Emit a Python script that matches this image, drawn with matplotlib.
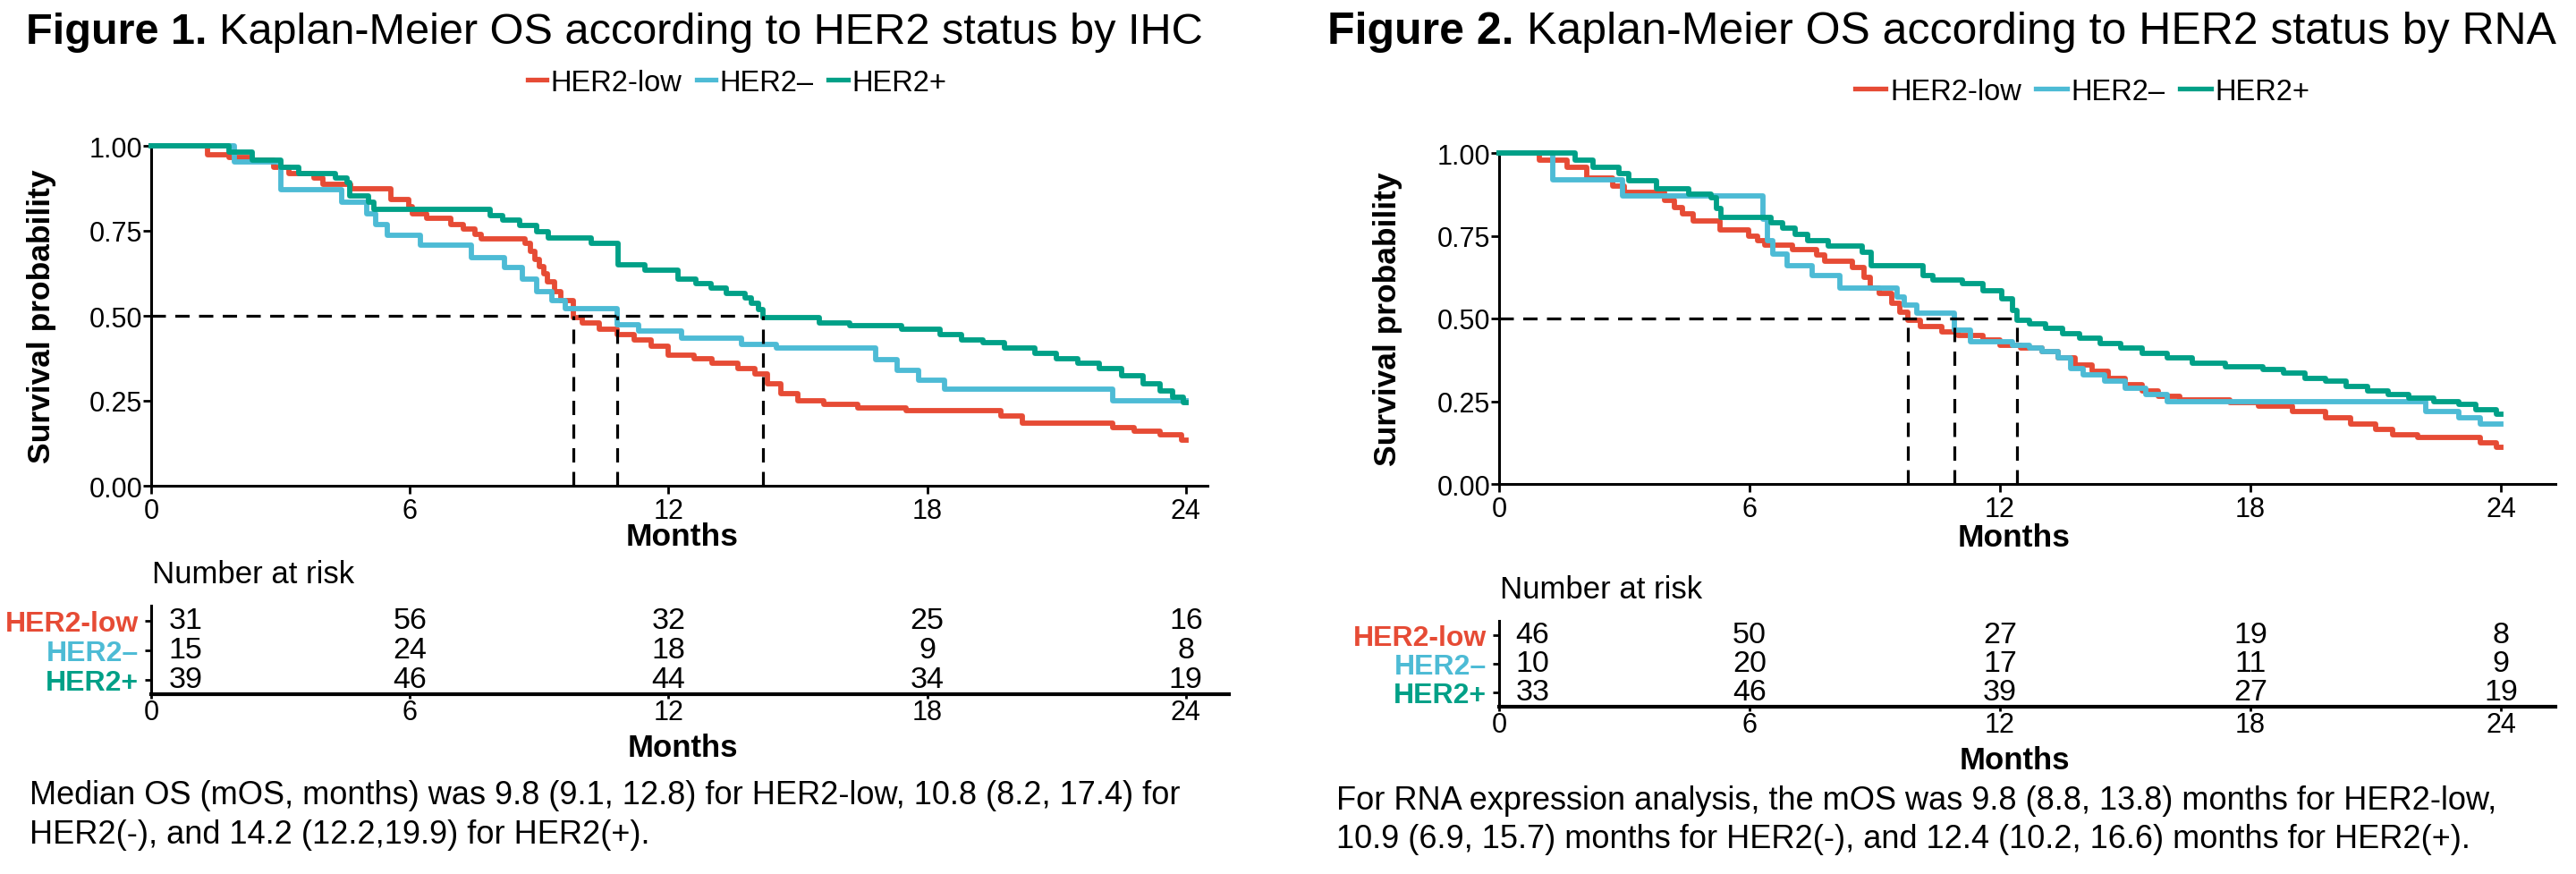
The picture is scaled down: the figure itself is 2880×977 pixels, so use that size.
import matplotlib
matplotlib.use("Agg")
import matplotlib.pyplot as plt
from matplotlib.lines import Line2D

plt.rcParams['font.family'] = ['Liberation Sans', 'DejaVu Sans']

# ---------------- data ----------------
groups = ['HER2-low', 'HER2\u2013', 'HER2+']
colors = ['#E64B35', '#4DBBD5', '#00A087']

# Figure 1 (IHC)
ihc_low_t = [0, 1.30, 1.80, 2.34, 2.84, 3.19, 3.77, 3.99, 4.62, 5.57, 5.98, 6.05, 6.40, 6.95, 7.25, 7.50,
             7.65, 8.67, 8.80, 8.90, 9.00, 9.10, 9.20, 9.35, 9.50, 9.80, 10.0, 10.4, 10.8, 11.2, 11.6,
             12.0, 12.6, 13.0, 13.6, 14.0, 14.3, 14.6, 15.0, 15.6, 16.4, 17.5, 19.7, 20.2, 22.3, 22.8,
             23.4, 23.9]
ihc_low_s = [1.0, .975, .967, .958, .936, .918, .905, .888, .875, .843, .822, .800, .786, .769, .756, .739,
             .726, .712, .690, .665, .645, .625, .600, .572, .545, .495, .480, .460, .445, .430, .410,
             .385, .375, .360, .345, .330, .300, .270, .250, .240, .230, .220, .205, .185, .170, .160,
             .150, .135]
ihc_neg_t = [0, 1.93, 3.00, 4.41, 5.00, 5.20, 5.48, 6.24, 7.42, 8.20, 8.60, 8.95, 9.30, 9.60, 10.8, 11.3,
             12.3, 13.7, 14.5, 16.8, 17.3, 17.8, 18.4, 22.3]
ihc_neg_s = [1.0, .953, .870, .835, .800, .769, .738, .707, .672, .642, .607, .572, .545, .520, .475, .455,
             .435, .415, .405, .370, .340, .310, .285, .250]
ihc_pos_t = [0, 1.80, 2.34, 3.01, 3.42, 4.27, 4.54, 4.60, 5.04, 5.17, 7.86, 8.15, 8.55, 8.95, 9.22, 10.2,
             10.84, 11.45, 12.22, 12.63, 12.98, 13.33, 13.78, 13.93, 14.08, 14.2, 15.5, 16.2, 17.4, 18.3,
             18.8, 19.3, 19.8, 20.5, 21.0, 21.5, 22.0, 22.5, 23.0, 23.4, 23.7, 23.95]
ihc_pos_s = [1.0, .982, .958, .936, .918, .905, .892, .853, .835, .812, .795, .782, .765, .747, .730, .712,
             .651, .635, .607, .594, .581, .565, .553, .537, .519, .495, .480, .470, .460, .445,
             .430, .420, .405, .390, .375, .360, .345, .325, .300, .280, .260, .245]
ihc_medians = [9.8, 10.8, 14.2]
risk_times = [0, 6, 12, 18, 24]
ihc_risk_low = [31, 56, 32, 25, 16]
ihc_risk_neg = [15, 24, 18, 9, 8]
ihc_risk_pos = [39, 46, 44, 34, 19]

# Figure 2 (RNA)
rna_low_t = [0, 0.96, 1.62, 2.11, 2.72, 3.01, 3.97, 4.20, 4.40, 4.64, 5.30, 5.98, 6.20, 6.36, 7.03, 7.60,
             7.80, 8.46, 8.75, 8.90, 9.10, 9.40, 9.60, 9.80, 10.1, 10.6, 11.0, 11.6, 12.0, 12.5, 13.0,
             13.4, 13.8, 14.2, 14.6, 15.0, 15.4, 15.8, 16.3, 17.5, 18.2, 19.0, 19.8, 20.4, 21.0, 21.4,
             22.0, 23.5, 23.9]
rna_low_s = [1.0, .978, .956, .923, .900, .882, .857, .834, .817, .794, .768, .750, .736, .722, .709, .691,
             .673, .655, .624, .593, .575, .545, .520, .495, .475, .460, .450, .435, .420, .410, .400,
             .380, .360, .340, .320, .300, .280, .265, .255, .245, .235, .220, .200, .180, .165, .150,
             .140, .125, .110]
rna_neg_t = [0, 1.29, 2.96, 6.33, 6.42, 6.56, 6.90, 7.50, 8.17, 9.54, 9.70, 10.0, 10.9, 11.3, 12.3, 12.7,
             13.0, 13.4, 13.7, 14.0, 14.5, 15.0, 15.5, 16.0, 22.2, 23.0, 23.5]
rna_neg_s = [1.0, .920, .871, .800, .736, .695, .660, .629, .592, .566, .540, .515, .465, .430, .420, .410,
             .400, .380, .350, .330, .310, .290, .270, .250, .220, .200, .180]
rna_pos_t = [0, 1.82, 2.25, 2.87, 3.11, 3.78, 4.54, 5.07, 5.20, 5.31, 6.52, 6.80, 7.10, 7.40, 7.89, 8.69,
             8.92, 10.15, 10.4, 11.1, 11.6, 12.05, 12.3, 12.4, 12.7, 13.1, 13.5, 13.9, 14.4, 14.9, 15.4,
             16.0, 16.6, 17.4, 18.3, 18.8, 19.3, 19.8, 20.3, 20.8, 21.3, 21.8, 22.4, 23.0, 23.4, 23.9]
rna_pos_s = [1.0, .978, .956, .938, .916, .893, .875, .866, .833, .805, .790, .772, .754, .736, .718, .700,
             .660, .629, .615, .606, .583, .560, .525, .495, .485, .470, .455, .440, .425, .410, .395,
             .380, .365, .355, .345, .335, .320, .310, .295, .280, .270, .260, .250, .240, .225, .210]
rna_medians = [9.8, 10.9, 12.4]
rna_risk_low = [46, 50, 27, 19, 8]
rna_risk_neg = [10, 20, 17, 11, 9]
rna_risk_pos = [33, 46, 39, 27, 19]

x_ticks = [0, 6, 12, 18, 24]
y_ticks = [0, 0.25, 0.5, 0.75, 1.0]
y_ticklabels = ['0.00', '0.25', '0.50', '0.75', '1.00']
follow_up_end = 24

fig_title1 = ('Figure 1.', 'Kaplan-Meier OS according to HER2 status by IHC')
fig_title2 = ('Figure 2.', 'Kaplan-Meier OS according to HER2 status by RNA')
note1 = ['Median OS (mOS, months) was 9.8 (9.1, 12.8) for HER2-low, 10.8 (8.2, 17.4) for',
         'HER2(-), and 14.2 (12.2,19.9) for HER2(+).']
note2 = ['For RNA expression analysis, the mOS was 9.8 (8.8, 13.8) months for HER2-low,',
         '10.9 (6.9, 15.7) months for HER2(-), and 12.4 (10.2, 16.6) months for HER2(+).']

# ---------------- figure ----------------
W, H = 2880, 978
fig = plt.figure(figsize=(W / 100, H / 100), dpi=100)
renderer = fig.canvas.get_renderer()


def rect(x0, y0, x1, y1):
    return [x0 / W, 1 - y1 / H, (x1 - x0) / W, (y1 - y0) / H]


def fx(x):
    return x / W


def fy(y):
    return 1 - y / H


def draw_title(x, ybase, parts, size):
    t1 = fig.text(fx(x), fy(ybase), parts[0], fontsize=size, fontweight='bold',
                  va='baseline', ha='left')
    bb = t1.get_window_extent(renderer=renderer)
    space = size * 100 / 72 * 0.278
    fig.text(fx(bb.x1 + space), fy(ybase), parts[1], fontsize=size, va='baseline', ha='left')


def draw_panel(cfg, curves, medians, risks, title, note):
    draw_title(cfg['title_x'], cfg['title_base'], title, cfg['title_size'])

    ax = fig.add_axes(rect(*cfg['main']))
    for (t, s), c, lab in zip(curves, colors, groups):
        ax.step(list(t) + [follow_up_end], list(s) + [s[-1]], where='post', color=c, lw=4.2,
                clip_on=False, label=lab, zorder=3)
    dash = (0, (5, 3.3))
    ax.plot([0, max(medians)], [0.5, 0.5], color='black', lw=2.3, ls=dash, zorder=4)
    for m in medians:
        ax.plot([m, m], [0, 0.5], color='black', lw=2.3, ls=dash, zorder=4)
    ax.set_xlim(0, cfg['xmax_main'])
    ax.set_ylim(0, 1)
    ax.set_xticks(x_ticks)
    ax.set_yticks(y_ticks)
    ax.set_yticklabels(y_ticklabels)
    for sp in ['top', 'right']:
        ax.spines[sp].set_visible(False)
    for sp in ['left', 'bottom']:
        ax.spines[sp].set_linewidth(2.2)
    ax.tick_params(length=6.5, width=2, labelsize=22, color='black')
    ax.tick_params(axis='y', pad=0.5)
    ax.tick_params(axis='x', pad=2.5)
    ax.patch.set_alpha(0)

    fig.text(fx(cfg['ylab'][0]), fy(cfg['ylab'][1]), 'Survival probability', rotation=90,
             fontsize=25.5, fontweight='bold', ha='center', va='center')
    fig.text(fx(cfg['xlab_x']), fy(cfg['xlab_main_y']), 'Months', fontsize=25.5,
             fontweight='bold', ha='center', va='center')

    handles = [Line2D([], [], color=c, lw=3.8) for c in colors]
    fig.legend(handles, groups, loc='center', bbox_to_anchor=(fx(cfg['leg'][0]), fy(cfg['leg'][1])),
               ncol=3, frameon=False, fontsize=23.5, handlelength=cfg['hlen'],
               handletextpad=0.15, columnspacing=0.5, borderpad=0, borderaxespad=0)

    # risk table
    fig.text(fx(cfg['nar'][0]), fy(cfg['nar'][1]), 'Number at risk', fontsize=25,
             ha='left', va='center')
    tb = fig.add_axes(rect(*cfg['table']))
    tb.set_xlim(0, cfg['xmax_table'])
    tb.set_ylim(0.5, 3.5)
    rows = [3, 2, 1]
    for row, vals in zip(rows, risks):
        for t, v in zip(risk_times, vals):
            tb.text(max(t, 0.8), row, str(v), ha='center', va='center', fontsize=24.5)
    tb.set_xticks(x_ticks)
    tb.set_yticks(rows)
    tb.set_yticklabels(groups, fontweight='bold', fontsize=23)
    for lbl, c in zip(tb.get_yticklabels(), colors):
        lbl.set_color(c)
    for sp in ['top', 'right']:
        tb.spines[sp].set_visible(False)
    tb.spines['left'].set_linewidth(2.2)
    tb.spines['bottom'].set_linewidth(3.0)
    tb.tick_params(axis='x', length=3.6, width=2, labelsize=22, pad=0)
    tb.tick_params(axis='y', length=5, width=2, pad=5)
    tb.patch.set_alpha(0)
    fig.text(fx(cfg['xlab_x']), fy(cfg['xlab_table_y']), 'Months', fontsize=25,
             fontweight='bold', ha='center', va='center')

    for (lx, ly), line in zip(cfg['note'], note):
        fig.text(fx(lx), fy(ly), line, fontsize=26, ha='left', va='center')


cfg1 = dict(title_x=29, title_base=49, title_size=35,
            main=(169, 164, 169 + 24.5 * 48.2, 544), xmax_main=24.5,
            table=(169, 678, 169 + 25.0 * 48.2, 777), xmax_table=25.0,
            ylab=(47, 354), xlab_x=763, xlab_main_y=600, xlab_table_y=837,
            leg=(824, 93), hlen=0.65, nar=(170, 643),
            note=[(33, 890), (33, 934)])
cfg2 = dict(title_x=1484, title_base=49, title_size=36,
            main=(1676, 172, 1676 + 25.3 * 46.67, 542), xmax_main=25.3,
            table=(1676, 695, 1676 + 25.3 * 46.67, 791), xmax_table=25.3,
            ylab=(1552, 357), xlab_x=2252, xlab_main_y=602, xlab_table_y=851,
            leg=(2328, 103), hlen=1.06, nar=(1677, 660),
            note=[(1494, 896), (1494, 939)])

draw_panel(cfg1, [(ihc_low_t, ihc_low_s), (ihc_neg_t, ihc_neg_s), (ihc_pos_t, ihc_pos_s)],
           ihc_medians, [ihc_risk_low, ihc_risk_neg, ihc_risk_pos], fig_title1, note1)
draw_panel(cfg2, [(rna_low_t, rna_low_s), (rna_neg_t, rna_neg_s), (rna_pos_t, rna_pos_s)],
           rna_medians, [rna_risk_low, rna_risk_neg, rna_risk_pos], fig_title2, note2)

fig.savefig('out.png', dpi=100)
